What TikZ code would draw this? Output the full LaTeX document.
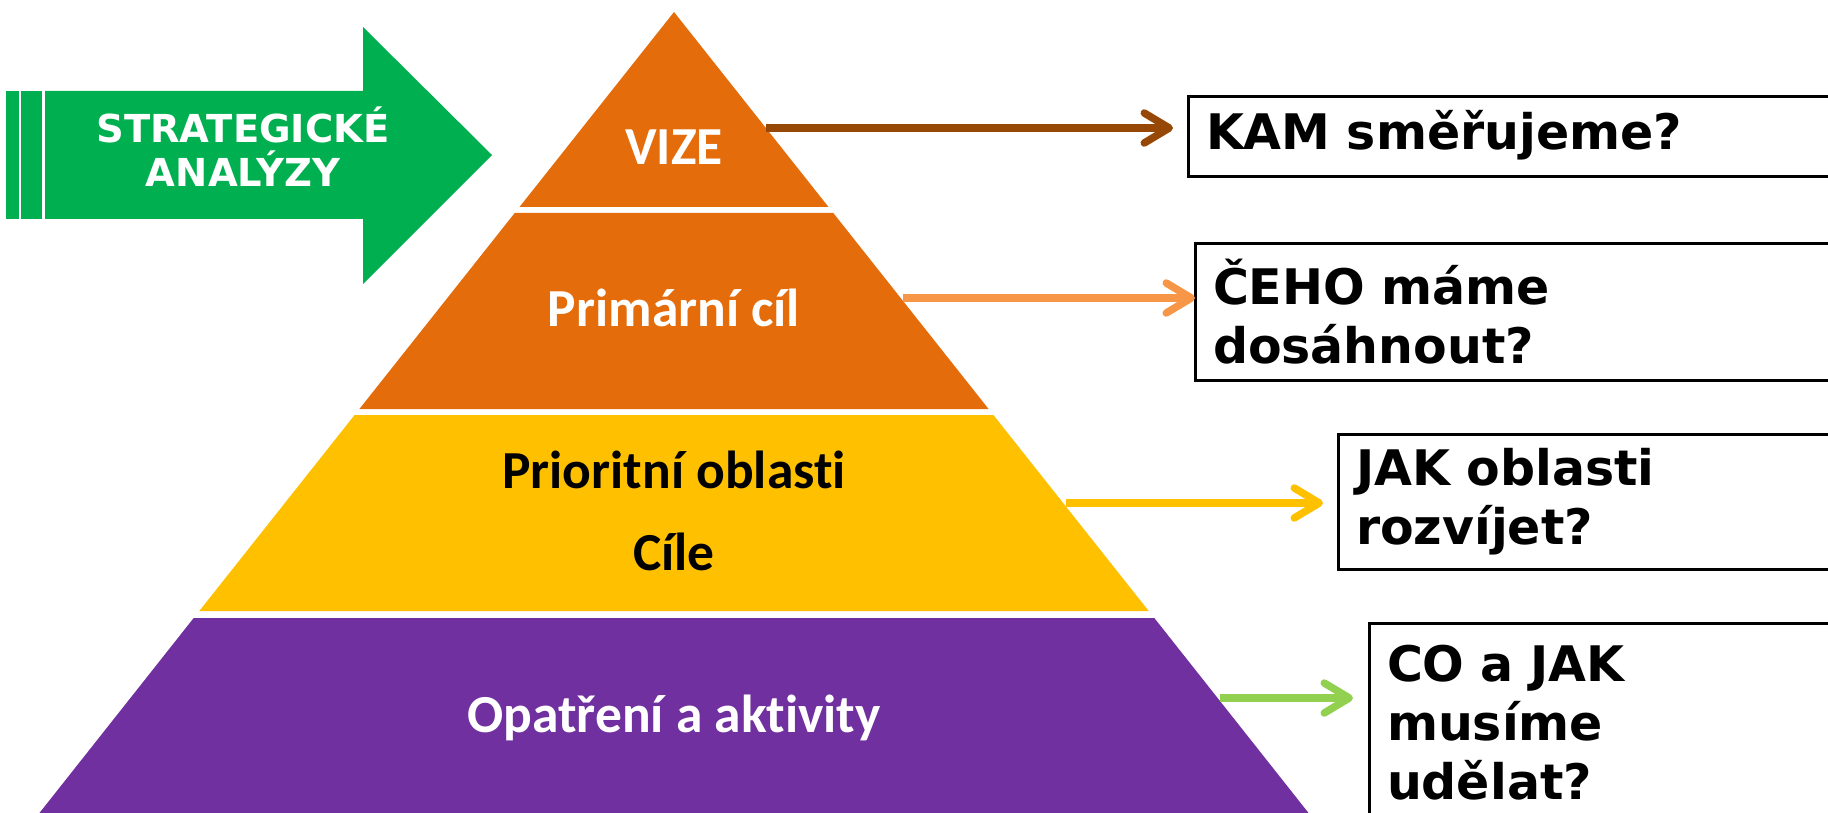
\documentclass[tikz,border=0pt]{standalone}
\usepackage{fontspec}
\setmainfont{Carlito}[Ligatures=NoCommon]
\newfontfamily\dejavu{DejaVu Sans}
\usetikzlibrary{arrows.meta}
\definecolor{pyrorange}{HTML}{E46C0A}
\definecolor{pyryellow}{HTML}{FFC000}
\definecolor{pyrpurple}{HTML}{7030A0}
\definecolor{arrgreen}{HTML}{00B050}
\definecolor{brownarr}{HTML}{974806}
\definecolor{lightorange}{HTML}{F79646}
\definecolor{yellowarr}{HTML}{FFC000}
\definecolor{lightgreen}{HTML}{92D050}
\begin{document}
\begin{tikzpicture}[x=1pt,y=-1pt,
  qbox/.style={draw, line width=3pt, anchor=north west, outer sep=0pt, inner xsep=18pt, inner ysep=0pt, align=left, font=\dejavu\bfseries\fontsize{49}{59}\selectfont},
  pyrtext/.style={anchor=base, inner sep=0pt, font=\bfseries\fontsize{53.5}{62}\selectfont},
  sttext/.style={anchor=base, inner sep=0pt, text=white, font=\dejavu\bfseries\fontsize{38.5}{46}\selectfont},
  conn/.style={line width=7.5pt, -{Straight Barb[length=25pt,width=30pt,line cap=round,line join=round]}},
]
\useasboundingbox (0,0) rectangle (1828,813);
\clip (0,0) rectangle (1828,813);
% green arrow
\fill[arrgreen] (6,91) rectangle (19,219);
\fill[arrgreen] (21,91) rectangle (42,219);
\fill[arrgreen] (45,91) -- (363,91) -- (363,27) -- (492,155) -- (363,284) -- (363,219) -- (45,219) -- cycle;
\node[sttext] (st1) at (243,143) {STRATEGICKÉ};
\node[sttext] (st2) at (243,187) {ANALÝZY};
% pyramid
\fill[pyrorange] (674,12) -- (828.5,207) -- (519.5,207) -- cycle;
\fill[pyrorange] (514.7,213) -- (833.3,213) -- (988.6,409) -- (359.4,409) -- cycle;
\fill[pyryellow] (354.6,415) -- (993.4,415) -- (1148.7,611) -- (199.3,611) -- cycle;
\fill[pyrpurple] (193.7,618) -- (1154.3,618) -- (1322,830) -- (26,830) -- cycle;
\node[pyrtext, text=white] (vize) at (674,165) {VIZE};
\node[pyrtext, text=white] (cil) at (674,326) {Primární cíl};
\node[pyrtext] (prio) at (674,488) {Prioritní oblasti};
\node[pyrtext] (cile) at (674,570) {Cíle};
\node[pyrtext, text=white] (opat) at (674,732) {Opatření a aktivity};
% boxes
\node[qbox, minimum width=662pt, minimum height=80pt, text width=626pt, text depth=14pt] (kam) at (1188,97) {KAM směřujeme?};
\node[qbox, minimum width=655pt, minimum height=137pt, text width=619pt] (ceho) at (1195,243) {ČEHO máme\\dosáhnout?};
\node[qbox, minimum width=512pt, minimum height=135pt, text width=476pt] (jak) at (1338,434) {JAK oblasti\\rozvíjet?};
\node[qbox, minimum width=481pt, minimum height=200pt, text width=445pt] (co) at (1369,623) {CO a JAK\\musíme\\udělat?};
% connectors
\coordinate (s1) at (766,128);
\coordinate (s2) at (903,298);
\coordinate (s3) at (1066,503);
\coordinate (s4) at (1220,698);
\draw[conn, brownarr, shorten >=15pt] (s1) -- (s1 -| kam.west);
\draw[conn, lightorange] (s2) -- (s2 -| ceho.west);
\draw[conn, yellowarr, shorten >=15pt] (s3) -- (s3 -| jak.west);
\draw[conn, lightgreen, shorten >=16pt] (s4) -- (s4 -| co.west);
\end{tikzpicture}
\end{document}
